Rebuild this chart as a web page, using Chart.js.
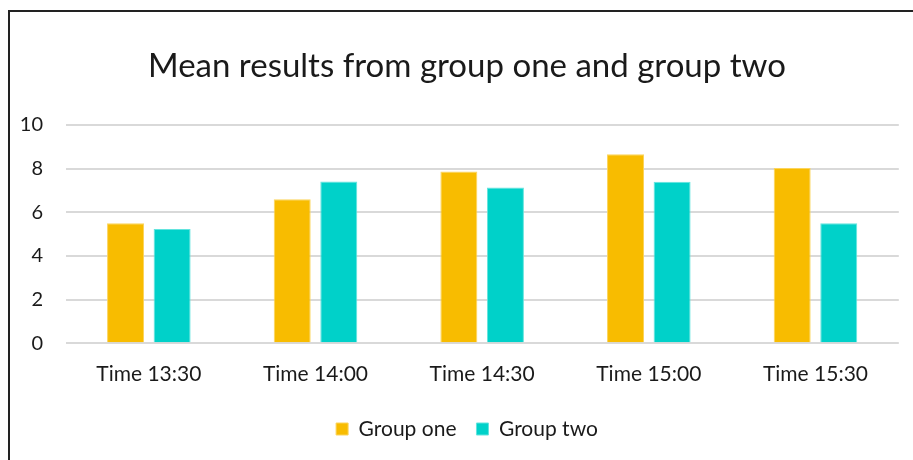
<!DOCTYPE html>
<html>
<head>
<meta charset="utf-8">
<script src="https://cdn.jsdelivr.net/npm/chart.js@4"></script>
<style>
    html, body { margin: 0; padding: 0; background: #fff; overflow: hidden; }
    #wrap { position: relative; width: 913px; height: 460px; }
    #frame {
        position: absolute; left: 8px; top: 10px; right: -10px; bottom: -10px;
        border-top: 2px solid #222; border-left: 2px solid #222;
        pointer-events: none;
    }
</style>
</head>
<body>
<div id="wrap">
    <canvas id="meanChart" width="913" height="460"></canvas>
    <div id="frame"></div>
</div>
<script>
// --- DATOS ---
const timeLabels = ['Time 13:30', 'Time 14:00', 'Time 14:30', 'Time 15:00', 'Time 15:30'];
const groupOne = [5.5, 6.6, 7.87, 8.66, 8.03];
const groupTwo = [5.24, 7.41, 7.14, 7.4, 5.5];
const yTicks = [0, 2, 4, 6, 8, 10];

const FONT = 'Lato, "Open Sans", sans-serif';
const TEXT = '#1a1a1a';

const ctx = document.getElementById('meanChart').getContext('2d');
const meanChart = new Chart(ctx, {
    type: 'bar',
    data: {
        labels: timeLabels,
        datasets: [
            { label: 'Group one', data: groupOne, backgroundColor: '#F8BC00', borderColor: '#FBD45C', borderWidth: 1 },
            { label: 'Group two', data: groupTwo, backgroundColor: '#00D1C9', borderColor: '#63E4DE', borderWidth: 1 }
        ]
    },
    options: {
        responsive: false,
        animation: false,
        categoryPercentage: 0.559,
        barPercentage: 0.794,
        layout: { padding: { left: 35.2, right: 14.2, top: 0, bottom: 10.5 } },
        plugins: {
            title: {
                display: true,
                text: 'Mean results from group one and group two',
                color: TEXT,
                font: { family: FONT, size: 33, weight: 'normal' },
                padding: { top: 46.2, bottom: 39.2 }
            },
            legend: {
                position: 'bottom',
                labels: {
                    color: TEXT,
                    font: { family: FONT, size: 21 },
                    boxWidth: 12,
                    boxHeight: 12,
                    padding: 20
                }
            },
            tooltip: { enabled: false }
        },
        scales: {
            x: {
                grid: { display: false, drawTicks: false },
                border: { display: false },
                ticks: { color: TEXT, font: { family: FONT, size: 21 }, padding: 18.1 },
                afterFit: (scale) => { scale.height = 55.2; }
            },
            y: {
                min: 0,
                max: 10,
                afterBuildTicks: (scale) => { scale.ticks = yTicks.map(v => ({ value: v })); },
                grid: { color: '#d9d9d9', lineWidth: 2, drawTicks: false },
                border: { display: false },
                ticks: { color: TEXT, font: { family: FONT, size: 20 }, padding: 22.5 },
                afterFit: (scale) => {
                    scale.width = 30.3;
                    // las etiquetas sobresalen a la izquierda del eje, no recortarlas
                    scale._computeLabelArea = () => undefined;
                }
            }
        }
    }
});
</script>
</body>
</html>
